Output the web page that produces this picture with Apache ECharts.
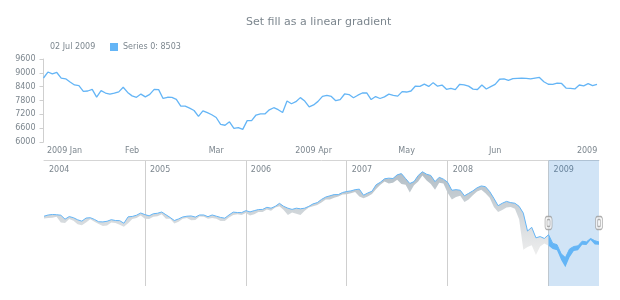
<!DOCTYPE html>
<html><head><meta charset="utf-8">
<script src="https://cdn.jsdelivr.net/npm/echarts@6/dist/echarts.min.js"></script>
<style>html,body{margin:0;padding:0;background:#fff}#c{width:620px;height:300px}</style>
</head><body><div id="c"></div>
<script>
// ---------- data ----------
const chartTitle = 'Set fill as a linear gradient';
const seriesName = 'Series 0';
const firstDate = '2009-01-02';
const lastDate = '2009-07-02';
const holidays = ['2009-01-19', '2009-02-16', '2009-04-10', '2009-05-25'];
const closeValues = [
  8776, 9035, 8953, 9015, 8770, 8742, 8599, 8474, 8449, 8200, 8212, 8281, 7949, 8228, 8123, 8078, 8116, 8175, 8375, 8149, 8001,
  7937, 8078, 7957, 8063, 8281, 8271, 7889, 7940, 7933, 7850, 7553, 7556, 7466, 7366, 7115, 7351, 7271, 7182, 7063,
  6763, 6726, 6876, 6594, 6627, 6547, 6926, 6930, 7170, 7224, 7217, 7396, 7487, 7401, 7278, 7776, 7660, 7750, 7925, 7776, 7522, 7609,
  7762, 7978, 8018, 7976, 7790, 7837, 8083, 8058, 7920, 8030, 8125, 8131, 7842, 7970, 7887, 7957, 8076, 8025, 7989, 8186, 8168,
  8212, 8427, 8411, 8512, 8410, 8575, 8419, 8469, 8285, 8331, 8269, 8504, 8475, 8422, 8292, 8277, 8473, 8300, 8404, 8500,
  8721, 8741, 8675, 8750, 8763, 8764, 8763, 8739, 8771, 8799, 8612, 8505, 8497, 8556, 8540, 8339, 8323, 8300, 8472, 8438, 8529, 8447,
  8503
];
const monthTickDates = ['2009-01-02', '2009-02-02', '2009-03-02', '2009-04-01', '2009-05-01', '2009-06-01', '2009-07-01'];
const monthTickLabels = ['2009 Jan', 'Feb', 'Mar', '2009 Apr', 'May', 'Jun', '2009'];
const yMin = 6000, yMax = 9600, yStep = 600;

// scroller: half-month periods 2004-01 .. 2009-07, high / low
const scrollerStartYear = 2004, scrollerEndYear = 2009;
const scrollerHigh = [
  10600,10700,10740,10720,10680,10360,10570,10480,10310,10200,10450,10480,10340,10150,10140,10190,10320,10250,10240,10030,10550,10580,10680,10860,
  10730,10630,10800,10840,10940,10720,10500,10250,10380,10540,10600,10620,10530,10700,10700,10560,10700,10600,10500,10440,10700,10930,10900,10890,
  11050,10950,11050,11140,11150,11320,11250,11400,11640,11400,11250,11150,11250,11200,11250,11400,11600,11700,11960,12150,12250,12350,12350,12520,
  12600,12650,12750,12790,12300,12480,12620,13150,13350,13630,13680,13650,13950,14050,13650,13250,13400,13900,14200,14000,13900,13400,13750,13600,
  13350,12700,12750,12700,12250,12450,12650,12900,13050,12990,12600,12050,11450,11650,11800,11700,11650,11400,10850,9400,9700,8850,8950,8800,
  9100,8400,8300,7560,7250,7950,8150,8200,8580,8520,8800,8620,8510
];
const scrollerLow = [
  10410,10450,10470,10560,10100,10050,10380,10230,9950,9870,10100,10350,10150,9960,9810,9850,10100,10040,9900,9750,10030,10380,10450,10650,
  10390,10370,10550,10600,10750,10400,10400,10010,10150,10400,10450,10270,10300,10580,10550,10400,10450,10400,10210,10220,10500,10700,10750,10700,
  10850,10650,10750,10950,10950,11150,11050,11300,11400,11100,10700,10900,10800,10700,11050,11300,11400,11500,11700,11950,11950,12100,12200,12350,
  12380,12450,12550,12200,12050,12200,12400,12800,13150,13400,13250,13300,13550,13200,13150,12520,13100,13400,13900,13500,13200,12740,13300,13250,
  12500,11950,12150,12250,11740,11950,12300,12600,12750,12450,12100,11350,10950,11100,11300,11350,11200,10350,7880,8100,8250,7450,8150,8400,
  8200,7950,7850,7060,6470,7280,7780,7840,8280,8270,8670,8300,8280
];
const selectionStart = '2009-01-01', selectionEnd = '2009-07-01';
const scrollerYMin = 4950, scrollerYMax = 15150;

// ---------- helpers ----------
function tradingDays(start, end, skip) {
  const out = [];
  let d = new Date(start + 'T00:00:00Z');
  const e = new Date(end + 'T00:00:00Z');
  while (d <= e) {
    const wd = d.getUTCDay(), s = d.toISOString().slice(0, 10);
    if (wd !== 0 && wd !== 6 && skip.indexOf(s) < 0) out.push(s);
    d = new Date(d.getTime() + 86400000);
  }
  return out;
}
const dates = tradingDays(firstDate, lastDate, holidays);
const scrollerDates = [];
for (let y = scrollerStartYear; y <= scrollerEndYear; y++) {
  for (let m = 1; m <= 12; m++) {
    const mm = (m < 10 ? '0' : '') + m;
    scrollerDates.push(y + '-' + mm + '-01');
    if (y + '-' + mm + '-01' === selectionEnd) break;
    scrollerDates.push(y + '-' + mm + '-16');
  }
}
const selIdx = scrollerDates.indexOf(selectionStart);
const gLow = scrollerLow.map((v, i) => i <= selIdx ? v : null);
const gBand = scrollerHigh.map((v, i) => i <= selIdx ? v - scrollerLow[i] : null);
const bLow = scrollerLow.map((v, i) => i >= selIdx ? v : null);
const bBand = scrollerHigh.map((v, i) => i >= selIdx ? v - scrollerLow[i] : null);
const yMid = (scrollerYMin + scrollerYMax) / 2;

const MONTHS = ['Jan','Feb','Mar','Apr','May','Jun','Jul','Aug','Sep','Oct','Nov','Dec'];
const ld = dates[dates.length - 1].split('-');
const headerDate = ld[2] + ' ' + MONTHS[+ld[1] - 1] + ' ' + ld[0];
const lastValue = closeValues[closeValues.length - 1];

const FONT = 'DejaVu Sans';
const TXT = '#7c868e';
const BLUE = '#64b5f6';

const chart = echarts.init(document.getElementById('c'), null, {renderer: 'canvas'});
chart.setOption({
  animation: false,
  textStyle: {fontFamily: FONT},
  title: [
    {text: chartTitle, left: 241, top: 12, textStyle: {fontSize: 11, color: TXT, fontWeight: 'normal', fontFamily: FONT}},
    {text: headerDate, left: 45, top: 38, textStyle: {fontSize: 8, color: TXT, fontWeight: 'normal', fontFamily: FONT}}
  ],
  legend: {
    data: [{name: seriesName, icon: 'rect'}],
    left: 105, top: 38, itemWidth: 8, itemHeight: 8, itemGap: 4,
    textStyle: {fontSize: 8, color: TXT, fontFamily: FONT},
    formatter: n => n + ': ' + lastValue,
    selectedMode: false
  },
  grid: [
    {left: 43.5, right: 23, top: 59, bottom: 158},
    {left: 44, right: 21, top: 160, bottom: 14}
  ],
  xAxis: [
    {
      type: 'category', gridIndex: 0, data: dates, boundaryGap: false,
      axisLine: {show: false}, axisTick: {show: false}, splitLine: {show: false},
      axisLabel: {
        color: TXT, fontSize: 8, margin: 5, fontFamily: FONT,
        interval: (i, v) => monthTickDates.indexOf(v) >= 0,
        formatter: v => {
          const k = monthTickDates.indexOf(v);
          if (k === 0) return '{f|' + monthTickLabels[k] + '}';
          if (k === monthTickDates.length - 1) return '{l|' + monthTickLabels[k] + '}';
          return monthTickLabels[k];
        },
        rich: {
          f: {fontSize: 8, color: TXT, padding: [0, 0, 0, 42], fontFamily: FONT},
          l: {fontSize: 8, color: TXT, padding: [0, 11, 0, 0], fontFamily: FONT}
        }
      }
    },
    {
      type: 'category', gridIndex: 1, data: scrollerDates, boundaryGap: false, position: 'top',
      axisLine: {show: true, lineStyle: {color: '#d5d5d5', width: 1}},
      axisTick: {show: false},
      axisLabel: {
        inside: true, margin: 6, align: 'left', padding: [0, 0, 0, 5],
        color: TXT, fontSize: 8, fontFamily: FONT,
        interval: (i, v) => v.slice(5) === '01-01',
        formatter: v => v.slice(0, 4)
      },
      splitLine: {show: true, interval: (i, v) => i > 0 && v.slice(5) === '01-01', lineStyle: {color: '#cfcfcf', width: 1}}
    }
  ],
  yAxis: [
    {
      type: 'value', gridIndex: 0, min: yMin, max: yMax, interval: yStep,
      axisLine: {show: true, lineStyle: {color: '#cfcfcf'}},
      axisTick: {show: true, length: 4, lineStyle: {color: '#cfcfcf'}},
      splitLine: {show: false},
      axisLabel: {color: TXT, fontSize: 8, margin: 8, fontFamily: FONT, formatter: v => String(v)}
    },
    {type: 'value', gridIndex: 1, min: scrollerYMin, max: scrollerYMax, show: false, splitLine: {show: false}}
  ],
  series: [
    {
      name: seriesName, type: 'line', xAxisIndex: 0, yAxisIndex: 0, data: closeValues,
      showSymbol: false, symbol: 'none', color: BLUE, lineStyle: {color: BLUE, width: 1.3}
    },
    {
      name: 'sgLow', type: 'line', xAxisIndex: 1, yAxisIndex: 1, stack: 'g', data: gLow,
      symbol: 'none', lineStyle: {opacity: 0}, silent: true,
      markArea: {silent: true, itemStyle: {color: 'rgba(25,118,210,0.2)'}, data: [[{xAxis: selectionStart}, {xAxis: selectionEnd}]]}
    },
    {
      name: 'sgBand', type: 'line', xAxisIndex: 1, yAxisIndex: 1, stack: 'g', data: gBand,
      symbol: 'none', silent: true, lineStyle: {color: BLUE, width: 1},
      areaStyle: {opacity: 1, color: new echarts.graphic.LinearGradient(0, 0, 0, 1, [
        {offset: 0, color: '#b3bec6'}, {offset: 1, color: '#eeeeee'}])}
    },
    {
      name: 'sbLow', type: 'line', xAxisIndex: 1, yAxisIndex: 1, stack: 'b', data: bLow,
      symbol: 'none', lineStyle: {opacity: 0}, silent: true, z: 3
    },
    {
      name: 'sbBand', type: 'line', xAxisIndex: 1, yAxisIndex: 1, stack: 'b', data: bBand,
      symbol: 'none', silent: true, z: 3, lineStyle: {color: BLUE, width: 1},
      areaStyle: {opacity: 1, color: BLUE}
    },
    {
      name: 'handles', type: 'scatter', xAxisIndex: 1, yAxisIndex: 1, silent: true, z: 5,
      data: [[selectionStart, yMid], [selectionEnd, yMid]],
      symbol: 'roundRect', symbolSize: [7, 13],
      itemStyle: {color: '#f4f4f4', borderColor: '#9a9a9a', borderWidth: 1}
    },
    {
      name: 'handleGrip', type: 'scatter', xAxisIndex: 1, yAxisIndex: 1, silent: true, z: 6,
      data: [[selectionStart, yMid], [selectionEnd, yMid]],
      symbol: 'roundRect', symbolSize: [3, 7],
      itemStyle: {color: 'transparent', borderColor: '#9a9a9a', borderWidth: 1}
    }
  ]
});
</script>
</body></html>
